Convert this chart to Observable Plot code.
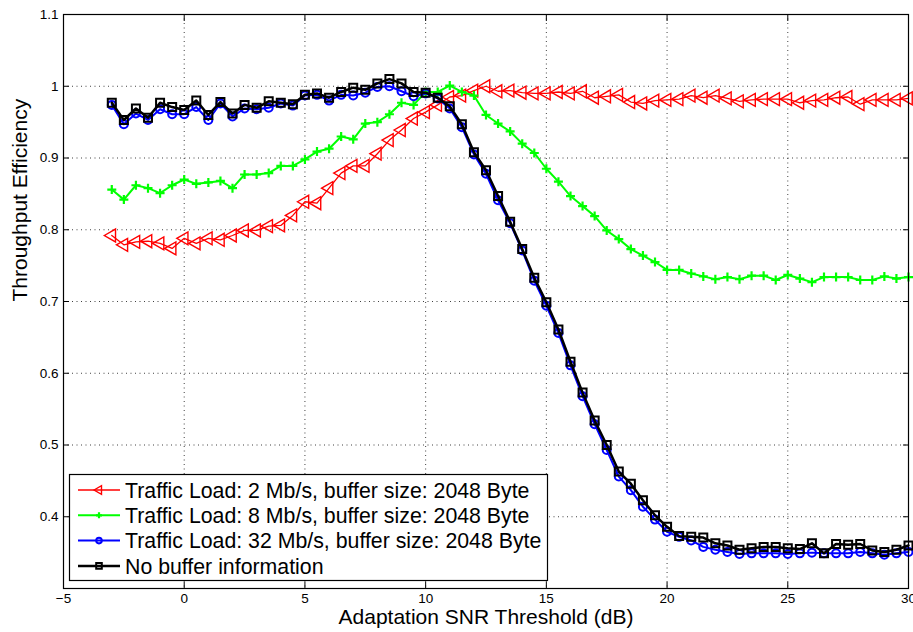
<!DOCTYPE html>
<html>
<head>
<meta charset="utf-8">
<script src="https://cdn.jsdelivr.net/npm/d3@7"></script>
<script src="https://cdn.jsdelivr.net/npm/@observablehq/plot@0.6"></script>
<style>
  body { margin: 0; background: #fff; }
  #chart { width: 913px; height: 632px; }
</style>
</head>
<body>
<div id="chart"></div>
<script>
// ---------- data ----------
const snr = [-3,-2.5,-2,-1.5,-1,-0.5,0,0.5,1,1.5,
  2,2.5,3,3.5,4,4.5,5,5.5,6,6.5,
  7,7.5,8,8.5,9,9.5,10,10.5,11,11.5,
  12,12.5,13,13.5,14,14.5,15,15.5,16,16.5,
  17,17.5,18,18.5,19,19.5,20,20.5,21,21.5,
  22,22.5,23,23.5,24,24.5,25,25.5,26,26.5,
  27,27.5,28,28.5,29,29.5,30];

const load2 = [0.792,0.779,0.783,0.784,0.781,0.774,0.788,0.781,0.788,0.786,
  0.792,0.799,0.799,0.805,0.806,0.820,0.839,0.837,0.858,0.879,
  0.889,0.889,0.906,0.925,0.939,0.955,0.964,0.974,0.985,0.987,
  0.994,1.000,0.993,0.994,0.991,0.990,0.990,0.992,0.990,0.993,
  0.984,0.986,0.988,0.978,0.976,0.980,0.981,0.982,0.987,0.984,
  0.987,0.983,0.979,0.981,0.982,0.982,0.982,0.977,0.980,0.981,
  0.984,0.985,0.975,0.981,0.981,0.981,0.983];

const load8 = [0.856,0.842,0.862,0.858,0.851,0.862,0.870,0.864,0.866,0.868,
  0.858,0.877,0.877,0.879,0.889,0.889,0.898,0.909,0.913,0.930,
  0.926,0.948,0.950,0.961,0.977,0.974,0.992,0.992,1.001,0.992,
  0.987,0.960,0.948,0.937,0.920,0.907,0.885,0.867,0.847,0.833,
  0.819,0.799,0.787,0.773,0.764,0.755,0.744,0.744,0.739,0.735,
  0.731,0.734,0.731,0.736,0.736,0.730,0.737,0.732,0.727,0.734,
  0.734,0.734,0.730,0.730,0.735,0.732,0.734];

const load32 = [0.974,0.947,0.962,0.953,0.968,0.961,0.961,0.971,0.953,0.976,
  0.958,0.969,0.968,0.970,0.976,0.973,0.987,0.988,0.980,0.988,
  0.987,0.991,0.999,1.000,0.993,0.986,0.990,0.983,0.969,0.943,
  0.905,0.878,0.841,0.809,0.771,0.729,0.694,0.656,0.611,0.568,
  0.529,0.493,0.456,0.437,0.414,0.396,0.379,0.372,0.367,0.358,
  0.354,0.351,0.348,0.349,0.349,0.349,0.348,0.349,0.350,0.349,
  0.349,0.349,0.351,0.349,0.347,0.349,0.351];

const noBuffer = [0.977,0.953,0.969,0.956,0.977,0.971,0.967,0.980,0.960,0.978,
  0.962,0.974,0.970,0.979,0.977,0.975,0.988,0.990,0.984,0.992,
  0.998,0.995,1.004,1.010,1.004,0.992,0.991,0.984,0.972,0.947,
  0.908,0.883,0.847,0.811,0.773,0.733,0.699,0.661,0.616,0.573,
  0.534,0.500,0.463,0.446,0.423,0.402,0.386,0.373,0.372,0.371,
  0.363,0.360,0.354,0.356,0.358,0.358,0.356,0.355,0.363,0.349,
  0.362,0.361,0.362,0.353,0.351,0.354,0.360];

const seriesNames = [
  "Traffic Load: 2 Mb/s, buffer size: 2048 Byte",
  "Traffic Load: 8 Mb/s, buffer size: 2048 Byte",
  "Traffic Load: 32 Mb/s, buffer size: 2048 Byte",
  "No buffer information"
];
const xTicks = [-5, 0, 5, 10, 15, 20, 25, 30];
const yTicks = [0.4, 0.5, 0.6, 0.7, 0.8, 0.9, 1.0, 1.1];
const xLabel = "Adaptation SNR Threshold (dB)";
const yLabel = "Throughput Efficiency";

// ---------- symbols ----------
const symLeftTri = { draw(ctx, size) {
  const y = -Math.sqrt(size / (Math.sqrt(3) * 3));
  ctx.moveTo(2 * y, 0);
  ctx.lineTo(-y, Math.sqrt(3) * y);
  ctx.lineTo(-y, -Math.sqrt(3) * y);
  ctx.closePath();
}};
const symPlus = { draw(ctx, size) {
  const h = Math.sqrt(size / Math.PI);
  ctx.moveTo(-h, 0); ctx.lineTo(h, 0);
  ctx.moveTo(0, -h); ctx.lineTo(0, h);
}};
const symSquare = { draw(ctx, size) {
  const h = Math.sqrt(size / Math.PI);
  ctx.rect(-h, -h, 2 * h, 2 * h);
}};
const symCircle = { draw(ctx, size) {
  const r = Math.sqrt(size / Math.PI);
  ctx.moveTo(r, 0); ctx.arc(0, 0, r, 0, 2 * Math.PI);
}};

const seriesValues = [load2, load8, load32, noBuffer];
const styles = [
  { color: "#ff0000", lw: 1.3, sym: symLeftTri, r: 4.8, sw: 1.4, lr: 3.2 },
  { color: "#00ff00", lw: 2.0, sym: symPlus,    r: 4.5, sw: 2.2, lr: 3.0 },
  { color: "#0000ff", lw: 2.0, sym: symCircle,  r: 4.0, sw: 2.0, lr: 2.8 },
  { color: "#000000", lw: 2.5, sym: symSquare,  r: 4.0, sw: 2.0, lr: 2.8 }
];

const rows = seriesValues.map((vals, i) =>
  snr.map((x, j) => ({ x, y: vals[j], name: seriesNames[i] })));

const fmt = d3.format("~g");
const marks = [
  Plot.gridX({ ticks: xTicks, stroke: "#000", strokeOpacity: 0.75, strokeDasharray: "1,3.5" }),
  Plot.gridY({ ticks: yTicks, stroke: "#000", strokeOpacity: 0.75, strokeDasharray: "1,3.5" })
];
rows.forEach((data, i) => {
  const s = styles[i];
  marks.push(Plot.line(data, { x: "x", y: "y", stroke: s.color, strokeWidth: s.lw, strokeLinejoin: "round" }));
  marks.push(Plot.dot(data, { x: "x", y: "y", symbol: s.sym, r: s.r, fill: "none", stroke: s.color, strokeWidth: s.sw }));
});
marks.push(
  Plot.axisX({ ticks: xTicks, tickSize: -6, tickPadding: 11, tickFormat: fmt, fontSize: 13.5, label: null }),
  Plot.axisX({ anchor: "top", ticks: xTicks, tickSize: -6, tickFormat: () => "", label: null }),
  Plot.axisY({ ticks: yTicks, tickSize: -6, tickPadding: 11, tickFormat: fmt, fontSize: 13.5, label: null }),
  Plot.axisY({ anchor: "right", ticks: yTicks, tickSize: -6, tickFormat: () => "", label: null }),
  Plot.frame({ stroke: "#000", strokeWidth: 1.2 }),
  Plot.text([xLabel], { text: d => d, frameAnchor: "bottom", dy: 35, fontSize: 21 }),
  Plot.text([yLabel], { text: d => d, frameAnchor: "left", dx: -43, rotate: -90, fontSize: 21 })
);

const plot = Plot.plot({
  width: 913,
  height: 632,
  marginLeft: 63,
  marginRight: 5,
  marginTop: 14,
  marginBottom: 44,
  style: { fontFamily: "'Liberation Sans', Arial, Helvetica, sans-serif", color: "#000", background: "#fff" },
  x: { domain: [-5, 30] },
  y: { domain: [0.3, 1.1] },
  marks
});

// ---------- legend (inside plot, lower-left) ----------
const svg = d3.select(plot);
const lg = svg.append("g")
  .attr("font-family", "'Liberation Sans', Arial, Helvetica, sans-serif")
  .attr("font-size", 21.3)
  .attr("text-anchor", "start");
lg.append("rect").attr("x", 69.5).attr("y", 474.5).attr("width", 478).attr("height", 106)
  .attr("fill", "#fff").attr("stroke", "#000").attr("stroke-width", 1.2);
seriesNames.forEach((name, i) => {
  const s = styles[i];
  const cy = 490 + i * 25.3;
  lg.append("line").attr("x1", 78).attr("x2", 120).attr("y1", cy).attr("y2", cy)
    .attr("stroke", s.color).attr("stroke-width", s.lw);
  lg.append("path").attr("d", d3.symbol(s.sym, Math.PI * s.lr * s.lr)())
    .attr("transform", `translate(99,${cy})`)
    .attr("fill", "none").attr("stroke", s.color).attr("stroke-width", s.sw);
  lg.append("text").attr("x", 125).attr("y", cy).attr("dy", "0.36em")
    .attr("text-anchor", "start").attr("fill", "#000").text(name);
});

document.getElementById("chart").appendChild(plot);
</script>
</body>
</html>
